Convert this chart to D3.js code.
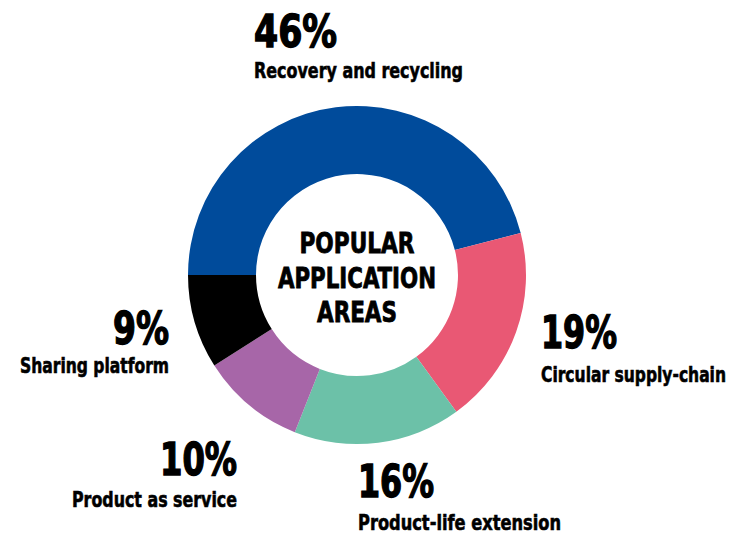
<!DOCTYPE html>
<html>
<head>
<meta charset="utf-8">
<script src="https://cdn.jsdelivr.net/npm/d3@7"></script>
<style>
  body { margin: 0; background: #fff; }
  svg text { font-family: "DejaVu Sans", "Liberation Sans", sans-serif; font-stretch: condensed; font-weight: bold; fill: #000; stroke: #000; }
</style>
</head>
<body>
<svg id="chart" width="735" height="536"></svg>
<script>
const categories = ["Recovery and recycling", "Circular supply-chain", "Product-life extension",
                    "Product as service", "Sharing platform"]
const values = [46, 19, 16, 10, 9]
const colors = ["#004b9b", "#e95874", "#6cc1a8", "#a766a8", "#000000"]
const centerLines = ["POPULAR", "APPLICATION", "AREAS"]

// label placement: x, baseline of the percent, baseline of the name, anchor, text widths
const labelLayout = [
  { x: 254, y: 47,  y2: 78,  anchor: "start", w1: 83, w2: 209 },
  { x: 541, y: 348, y2: 382, anchor: "start", w1: 76, w2: 185 },
  { x: 358, y: 497, y2: 530, anchor: "start", w1: 76, w2: 203 },
  { x: 237, y: 475, y2: 507, anchor: "end",   w1: 77, w2: 165 },
  { x: 169, y: 344, y2: 373, anchor: "end",   w1: 56, w2: 149 }
]
const centerLayout = [
  { y: -22, w: 115 },
  { y: 13,  w: 158 },
  { y: 47,  w: 80 }
]

const svg = d3.select("#chart")
const cx = 357, cy = 275,
      outerR = 169, innerR = 101

const pie = d3.pie()
    .sort(null)
    .value(d => d)
    .startAngle(-Math.PI / 2)
    .endAngle(Math.PI * 1.5)

const arc = d3.arc()
    .innerRadius(innerR)
    .outerRadius(outerR)

const g = svg.append("g")
    .attr("transform", `translate(${cx},${cy})`)

g.selectAll("path")
  .data(pie(values))
  .enter().append("path")
    .attr("d", arc)
    .attr("fill", (d, i) => colors[i])
    .attr("stroke", "none")

// centre title
g.selectAll("text.center")
  .data(centerLines)
  .enter().append("text")
    .attr("class", "center")
    .attr("text-anchor", "middle")
    .attr("y", (d, i) => centerLayout[i].y)
    .attr("textLength", (d, i) => centerLayout[i].w)
    .attr("lengthAdjust", "spacingAndGlyphs")
    .style("font-size", "29px")
    .style("stroke-width", 0.8)
    .text(d => d)

// outside labels
const labels = svg.selectAll("g.label")
  .data(categories)
  .enter().append("g")
    .attr("class", "label")
    .attr("transform", (d, i) => `translate(${labelLayout[i].x},0)`)

labels.append("text")
    .attr("text-anchor", (d, i) => labelLayout[i].anchor)
    .attr("y", (d, i) => labelLayout[i].y)
    .attr("textLength", (d, i) => labelLayout[i].w1)
    .attr("lengthAdjust", "spacingAndGlyphs")
    .style("font-size", "45px")
    .style("stroke-width", 1.4)
    .text((d, i) => values[i] + "%")

labels.append("text")
    .attr("text-anchor", (d, i) => labelLayout[i].anchor)
    .attr("y", (d, i) => labelLayout[i].y2)
    .attr("textLength", (d, i) => labelLayout[i].w2)
    .attr("lengthAdjust", "spacingAndGlyphs")
    .style("font-size", "22px")
    .style("stroke-width", 0.6)
    .text(d => d)
</script>
</body>
</html>
